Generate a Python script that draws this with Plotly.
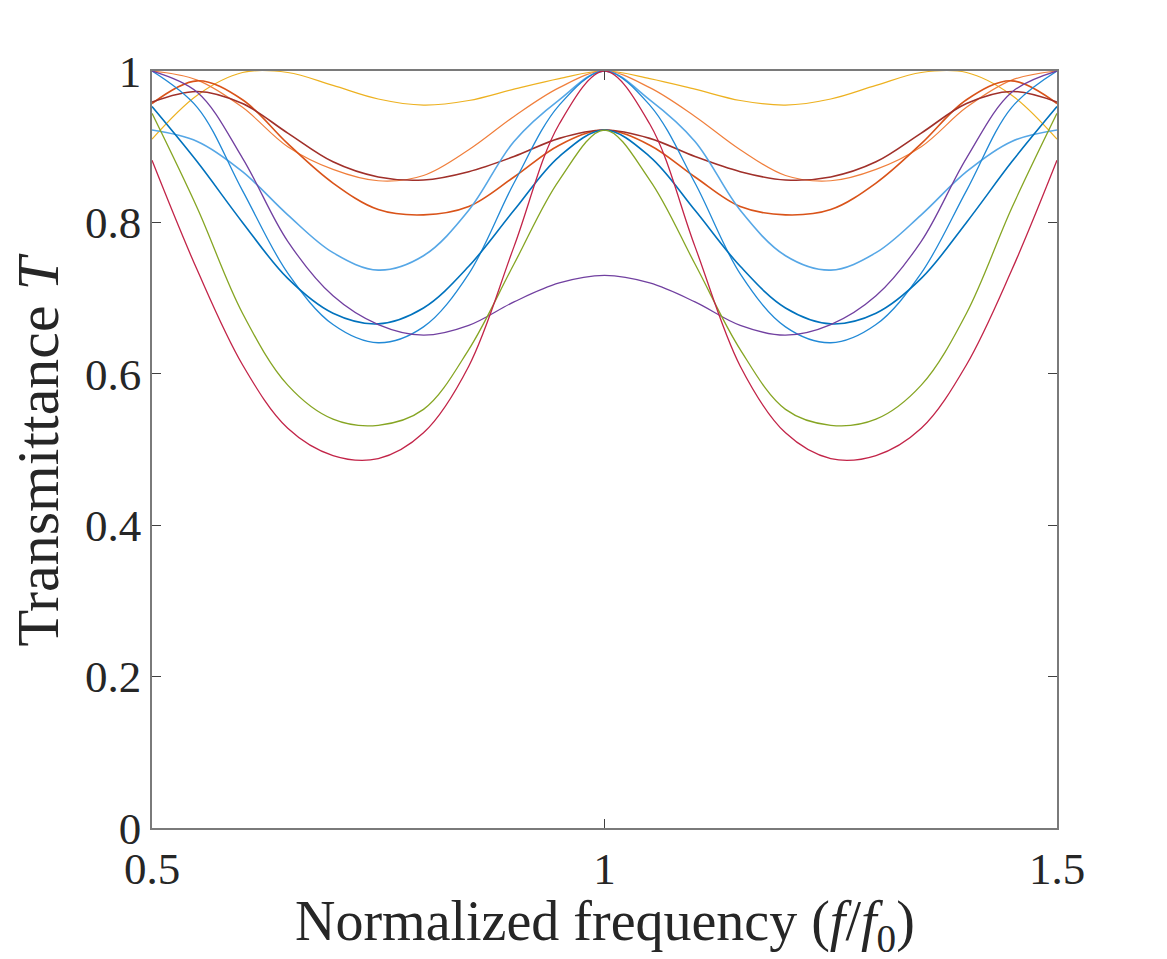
import plotly.graph_objects as go

# Normalized frequency samples (f/f0)
freq = [0.50, 0.55, 0.60, 0.65, 0.70, 0.75, 0.80, 0.85, 0.90, 0.95, 1.00,
        1.05, 1.10, 1.15, 1.20, 1.25, 1.30, 1.35, 1.40, 1.45, 1.50]

# Transmittance curves (symmetric about f/f0 = 1)
t_yellow = [0.910, 0.968, 0.998, 0.998, 0.981, 0.963, 0.955, 0.961, 0.976, 0.990, 1.000,
            0.990, 0.976, 0.961, 0.955, 0.963, 0.981, 0.998, 0.998, 0.968, 0.910]
t_orange = [1.000, 0.988, 0.952, 0.900, 0.870, 0.855, 0.862, 0.896, 0.940, 0.978, 1.000,
            0.978, 0.940, 0.896, 0.862, 0.855, 0.870, 0.900, 0.952, 0.988, 1.000]
t_redorange = [0.957, 0.987, 0.962, 0.904, 0.852, 0.817, 0.810, 0.821, 0.860, 0.902, 0.922,
               0.902, 0.860, 0.821, 0.810, 0.817, 0.852, 0.904, 0.962, 0.987, 0.957]
t_darkred = [0.959, 0.973, 0.957, 0.918, 0.880, 0.860, 0.856, 0.867, 0.887, 0.911, 0.922,
             0.911, 0.887, 0.867, 0.856, 0.860, 0.880, 0.918, 0.957, 0.973, 0.959]
t_lightblue = [0.922, 0.907, 0.867, 0.810, 0.760, 0.737, 0.756, 0.816, 0.907, 0.962, 1.000,
               0.962, 0.907, 0.816, 0.756, 0.737, 0.760, 0.810, 0.867, 0.907, 0.922]
t_midblue = [1.000, 0.952, 0.842, 0.733, 0.665, 0.641, 0.662, 0.732, 0.852, 0.955, 1.000,
             0.955, 0.852, 0.732, 0.662, 0.641, 0.665, 0.733, 0.842, 0.952, 1.000]
t_blue = [0.953, 0.880, 0.800, 0.726, 0.680, 0.666, 0.687, 0.742, 0.816, 0.887, 0.922,
          0.887, 0.816, 0.742, 0.687, 0.666, 0.680, 0.726, 0.800, 0.880, 0.953]
t_purple = [1.000, 0.972, 0.885, 0.775, 0.703, 0.665, 0.651, 0.664, 0.695, 0.720, 0.730,
            0.720, 0.695, 0.664, 0.651, 0.665, 0.703, 0.775, 0.885, 0.972, 1.000]
t_green = [0.944, 0.819, 0.680, 0.585, 0.540, 0.532, 0.553, 0.632, 0.745, 0.856, 0.922,
           0.856, 0.745, 0.632, 0.553, 0.532, 0.540, 0.585, 0.680, 0.819, 0.944]
t_crimson = [0.882, 0.737, 0.612, 0.528, 0.492, 0.488, 0.522, 0.610, 0.768, 0.930, 1.000,
             0.930, 0.768, 0.610, 0.522, 0.488, 0.492, 0.528, 0.612, 0.737, 0.882]

series = [
    (t_yellow, "#EDB120", 1.2),
    (t_orange, "#F07F3C", 1.2),
    (t_redorange, "#D95319", 1.6),
    (t_darkred, "#A0302A", 1.6),
    (t_lightblue, "#56A7E6", 1.6),
    (t_midblue, "#2189D6", 1.3),
    (t_blue, "#0072BD", 1.6),
    (t_purple, "#7140A0", 1.3),
    (t_green, "#86A523", 1.3),
    (t_crimson, "#C22448", 1.3),
]

fig = go.Figure()
for ys, col, w in series:
    fig.add_trace(go.Scatter(x=freq, y=ys, mode="lines",
                             line=dict(color=col, width=w, shape="spline", smoothing=1.0),
                             showlegend=False, hoverinfo="skip"))

font_family = "Liberation Serif"
axis_common = dict(
    showgrid=False, zeroline=False, showline=True, linecolor="#7a7a7a", linewidth=1.5,
    mirror="ticks", ticks="inside", ticklen=9, tickwidth=1.3, tickcolor="#404040",
    tickfont=dict(family=font_family, size=45, color="#262626"),
)

fig.update_layout(
    width=1167, height=959,
    margin=dict(l=152, r=110, t=71, b=131),
    paper_bgcolor="white", plot_bgcolor="white",
    xaxis=dict(range=[0.5, 1.5], tickvals=[0.5, 1, 1.5], ticktext=["0.5", "1", "1.5"],
               ticklabelstandoff=0, **axis_common),
    yaxis=dict(range=[0, 1], tickvals=[0, 0.2, 0.4, 0.6, 0.8, 1],
               ticktext=["0", "0.2", "0.4", "0.6", "0.8", "1"], **axis_common),
    annotations=[
        dict(text="Normalized frequency (<i>f</i>/<i>f</i><sub>0</sub>)",
             xref="paper", yref="paper", x=0.5, y=-0.128, xanchor="center", yanchor="middle",
             showarrow=False, font=dict(family=font_family, size=56, color="#262626")),
        dict(text="Transmittance <i>T</i>",
             xref="paper", yref="paper", x=-0.126, y=0.5, xanchor="center", yanchor="middle",
             textangle=-90, showarrow=False,
             font=dict(family=font_family, size=60, color="#262626")),
    ],
)

fig.write_html("out.html")
